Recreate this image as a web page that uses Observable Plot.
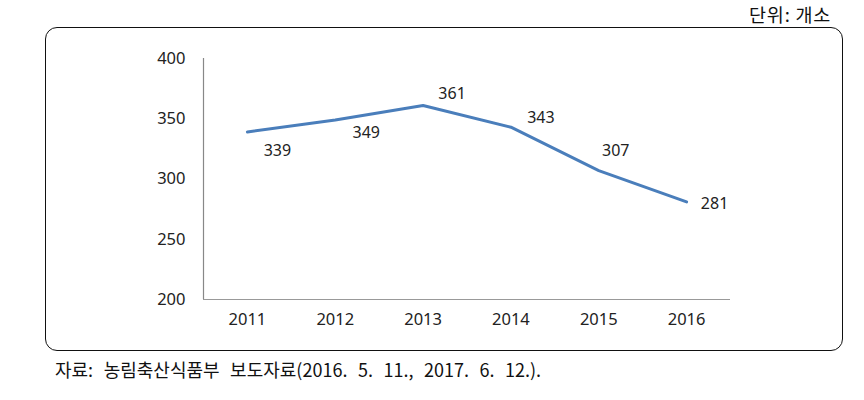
<!DOCTYPE html>
<html>
<head>
<meta charset="utf-8">
<script src="https://cdn.jsdelivr.net/npm/d3@7"></script>
<script src="https://cdn.jsdelivr.net/npm/@observablehq/plot@0.6"></script>
<style>
  html, body { margin: 0; padding: 0; background: #fff; }
  #wrap { position: relative; width: 864px; height: 400px; overflow: hidden; }
  #box { position: absolute; left: 45px; top: 27px; width: 796px; height: 322px;
         border: 1.6px solid #111; border-radius: 12px; box-sizing: content-box; }
  #chart { position: absolute; left: 0; top: 0; }
  #unit { position: absolute; left: 749px; top: 3px; font-family: "Noto Sans CJK KR", sans-serif;
          font-size: 18.5px; line-height: 22px; color: #111; letter-spacing: 0.8px; white-space: nowrap; }
  #source { position: absolute; left: 55px; top: 358px; font-family: "Noto Sans CJK KR", sans-serif;
            font-size: 18px; line-height: 22px; color: #111; word-spacing: 6.5px; white-space: nowrap; }
</style>
</head>
<body>
<div id="wrap">
  <div id="box"></div>
  <div id="chart"></div>
  <div id="unit"></div>
  <div id="source"></div>
</div>
<script>
const years = [2011, 2012, 2013, 2014, 2015, 2016];
const counts = [339, 349, 361, 343, 307, 281];
const yTicks = [200, 250, 300, 350, 400];
const unitText = "단위: 개소";
const sourceText = "자료: 농림축산식품부 보도자료(2016. 5. 11., 2017. 6. 12.).";

// label placement (style, not data): [dx, dy]
const labelOffsets = [[30, 19], [31, 13], [29, -12], [30, -9], [17, -20], [28, 2]];

document.getElementById("unit").textContent = unitText;
document.getElementById("source").textContent = sourceText;

const idx = years.map((_, i) => i);

const chart = Plot.plot({
  width: 864,
  height: 400,
  marginLeft: 203,
  marginRight: 134,
  marginTop: 58,
  marginBottom: 101,
  style: { fontFamily: "'Noto Sans', sans-serif", fontSize: "16px", color: "#222", background: "transparent" },
  x: { type: "linear", domain: [years[0] - 0.5, years[years.length - 1] + 0.5] },
  y: { domain: [200, 400] },
  marks: [
    Plot.axisX({ ticks: years, tickFormat: d => String(d), tickSize: 0, tickPadding: 14,
                 label: null, fontSize: 16.5, fill: "#222" }),
    Plot.axisY({ ticks: yTicks, tickSize: 0, tickPadding: 18, label: null, fontSize: 16.5, fill: "#222" }),
    Plot.ruleY([200], { stroke: "#999", strokeWidth: 1.2 }),
    Plot.ruleX([years[0] - 0.5], { stroke: "#888", strokeWidth: 1.2 }),
    Plot.line(idx, { x: i => years[i], y: i => counts[i], stroke: "#4a7ebb", strokeWidth: 3 }),
    ...idx.map(i => Plot.text([i], {
      x: d => years[d], y: d => counts[d], text: d => String(counts[d]),
      dx: labelOffsets[i][0], dy: labelOffsets[i][1],
      fill: "#222", fontSize: 16
    }))
  ]
});
document.getElementById("chart").appendChild(chart);
</script>
</body>
</html>
